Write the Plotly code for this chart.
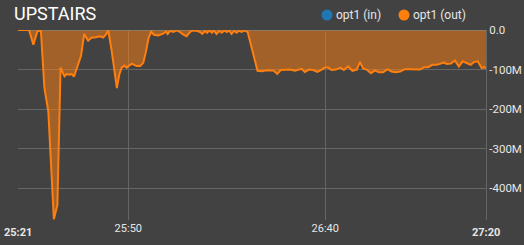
import pandas as pd
import plotly.graph_objects as go

# ---- data ----
start_time = "2024-01-01 00:25:22.0"
end_offset_s = 118.8
offsets_s = [0, 2.8, 3.9, 4.9, 5.8, 6.7, 7.7, 9.1, 10.0, 10.8,
             11.8, 12.4, 13.0, 13.6, 14.2, 15.3, 16.0, 16.8, 17.8, 18.7,
             19.5, 20.8, 21.6, 22.3, 22.9, 23.8, 24.4, 25.1, 25.7, 26.3,
             27.0, 27.6, 28.2, 28.9, 29.5, 30.1, 31.0, 31.8, 32.5, 33.1,
             33.8, 34.5, 35.6, 36.7, 37.6, 38.0, 38.6, 39.4, 40.3, 41.1,
             42.0, 42.8, 43.4, 44.1, 45.4, 46.2, 46.8, 47.5, 48.0, 48.6,
             49.2, 49.7, 50.4, 51.1, 51.7, 52.4, 53.0, 53.6, 54.2, 54.9,
             55.5, 56.1, 56.8, 57.4, 58.3, 59.1, 60.0, 60.8, 61.9, 63.1,
             64.8, 65.8, 66.7, 67.8, 69.0, 70.3, 71.1, 72.0, 72.8, 73.9,
             74.9, 76.0, 77.1, 77.9, 78.8, 79.6, 80.7, 81.9, 82.7, 83.8,
             84.9, 86.0, 86.8, 87.6, 88.5, 89.6, 90.6, 91.6, 92.7, 93.8,
             94.8, 95.9, 97.0, 98.2, 99.5, 100.8, 102.0, 103.1, 104.1, 105.2,
             106.3, 107.3, 108.1, 108.8, 109.9, 110.9, 111.9, 112.9, 113.9, 114.9,
             115.8, 116.7, 117.7, 118.4, 118.8]
out_values_M = [0, 0, -37, -4, 0, -146, -206, -478, -442, -95,
                -117, -111, -113, -111, -118, -88, -65, -10, -27, -19,
                -19, -16, -19, -12, 0, -54, -96, -147, -113, -95,
                -90, -95, -90, -85, -88, -91, -91, -83, -54, -22,
                -4, -12, -14, -10, -4, -10, -2, -5, -1, -5,
                -12, -16, -8, -1, -2, -5, -10, -2, -7, -1,
                -7, -1, -10, -2, -7, -1, -5, -1, -10, -2,
                -7, -2, -5, -1, -5, -37, -71, -103, -104, -102,
                -102, -111, -101, -101, -100, -103, -100, -98, -106, -100,
                -101, -106, -100, -95, -95, -101, -100, -95, -101, -92,
                -103, -100, -81, -97, -100, -109, -102, -107, -107, -99,
                -105, -107, -105, -99, -99, -100, -100, -94, -94, -88,
                -88, -85, -82, -86, -85, -77, -92, -79, -83, -88,
                -81, -79, -96, -94, -97]
in_offsets_s = [0, 118.8]
in_values_M = [0, 0]

y_tick_vals = [0, -100, -200, -300, -400]
y_tick_text = ["0.0", "-100M", "-200M", "-300M", "-400M"]
x_tick_times = ["2024-01-01 00:25:50", "2024-01-01 00:26:40"]
x_tick_text = ["25:50", "26:40"]
x_end_labels = ["25:21", "27:20"]
series_names = ["opt1 (in)", "opt1 (out)"]
title_text = "UPSTAIRS"

assert len(offsets_s) == len(out_values_M)

# ---- build ----
t0 = pd.Timestamp(start_time)
times_out = [t0 + pd.Timedelta(seconds=s) for s in offsets_s]
times_in = [t0 + pd.Timedelta(seconds=s) for s in in_offsets_s]
t_end = t0 + pd.Timedelta(seconds=end_offset_s)

BG = "#424242"
GRID = "#666666"
TXT = "#e6e6e6"
BLUE = "#1f77b4"
ORANGE = "#ff7f0e"
FONT = "Roboto"

PW, PH = 468, 190  # plot area size in px

fig = go.Figure()
fig.add_trace(go.Scatter(x=times_in, y=in_values_M, mode="lines", name=series_names[0],
                         line=dict(color=BLUE, width=2), showlegend=False))
fig.add_trace(go.Scatter(x=times_out, y=out_values_M, mode="lines", name=series_names[1],
                         line=dict(color=ORANGE, width=2), fill="tozeroy",
                         fillcolor="rgba(255,127,14,0.5)", showlegend=False))

annotations = [
    dict(text=title_text, xref="paper", yref="paper", x=(13 - 18) / PW, y=1 + 16 / PH,
         xanchor="left", yanchor="middle", showarrow=False, borderpad=0,
         font=dict(family=FONT, size=18, color="#ffffff")),
    dict(text="<b>%s</b>" % x_end_labels[0], xref="x", yref="paper", x=times_in[0], y=0,
         xanchor="center", yanchor="top", yshift=-4, showarrow=False,
         font=dict(family=FONT, size=11, color=TXT)),
    dict(text="<b>%s</b>" % x_end_labels[1], xref="x", yref="paper", x=t_end, y=0,
         xanchor="center", yanchor="top", yshift=-4, showarrow=False,
         font=dict(family=FONT, size=11, color=TXT)),
]
shapes = []
legend_colors = [BLUE, ORANGE]
legend_x = [327, 404]  # pixel positions of legend markers
for name, col, px in zip(series_names, legend_colors, legend_x):
    xp = (px - 18) / PW
    shapes.append(dict(type="circle", xref="paper", yref="paper", xsizemode="pixel",
                       ysizemode="pixel", xanchor=xp, yanchor=1 + 15 / PH,
                       x0=-5.5, x1=5.5, y0=-5.5, y1=5.5,
                       fillcolor=col, line=dict(width=0)))
    annotations.append(dict(text=name, xref="paper", yref="paper", x=xp, xshift=7,
                            y=1 + 15 / PH, xanchor="left", yanchor="middle", showarrow=False,
                            font=dict(family=FONT, size=12, color=TXT)))

fig.update_layout(
    width=524, height=245,
    margin=dict(l=18, r=38, t=30, b=25, autoexpand=False),
    paper_bgcolor=BG, plot_bgcolor=BG,
    font=dict(family=FONT, color=TXT, size=11),
    annotations=annotations, shapes=shapes,
    showlegend=False,
    xaxis=dict(type="date", range=[t0, t_end], tickvals=x_tick_times, ticktext=x_tick_text,
               showgrid=True, gridcolor=GRID, gridwidth=1, zeroline=False, showline=False,
               ticks="", automargin=False, tickfont=dict(family=FONT, size=11, color=TXT)),
    yaxis=dict(side="right", range=[-480, 0], tickvals=y_tick_vals, ticktext=y_tick_text,
               showgrid=True, gridcolor=GRID, gridwidth=1, zeroline=False,
               showline=True, linecolor=GRID, linewidth=1, ticks="", automargin=False,
               tickfont=dict(family=FONT, size=11.5, color=TXT)),
)

fig.write_html("out.html")
